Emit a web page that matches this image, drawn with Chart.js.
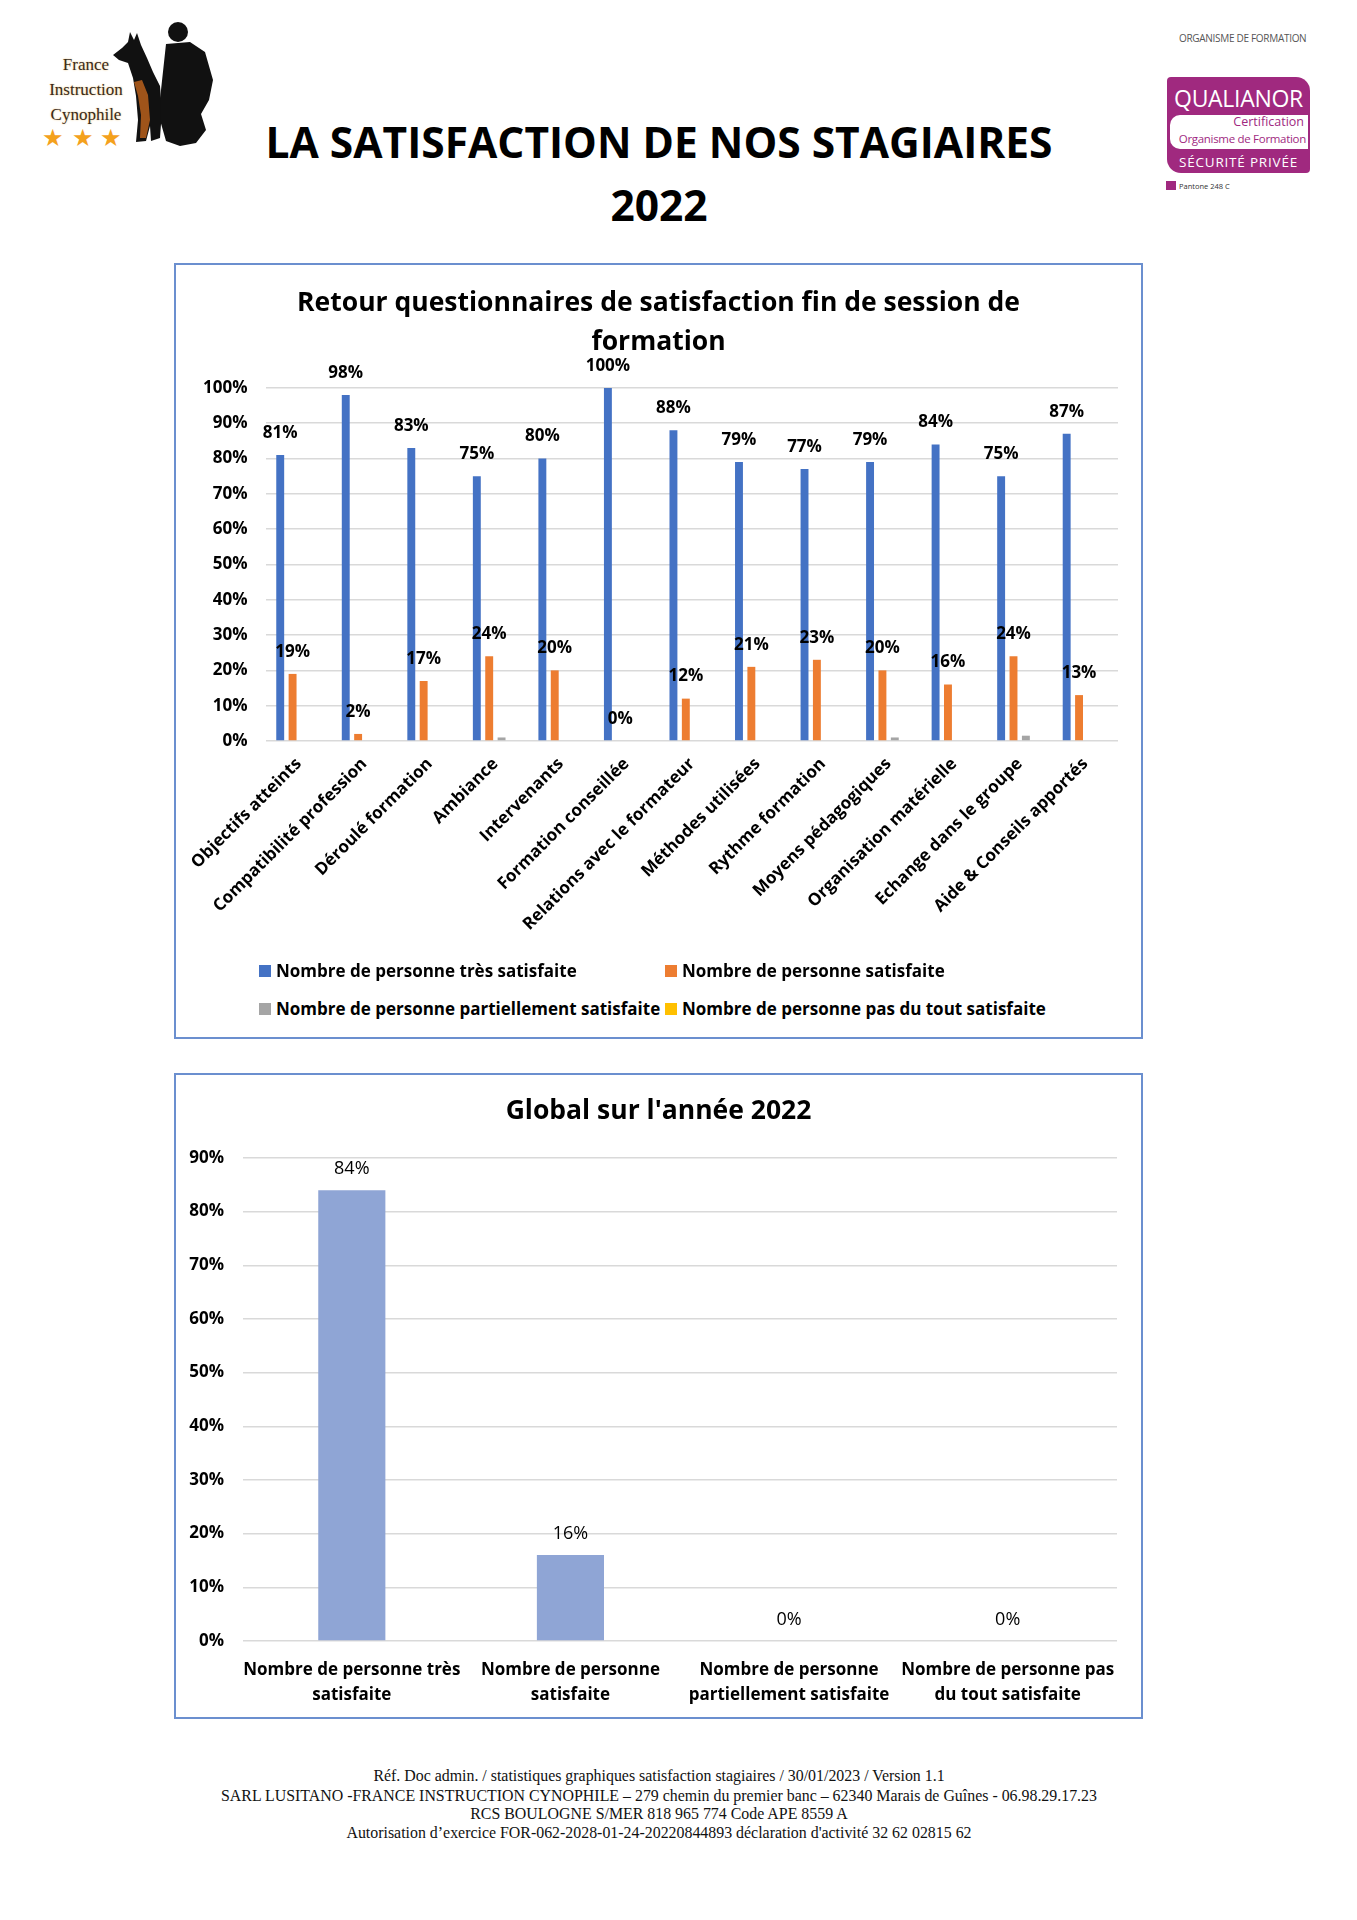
<!DOCTYPE html>
<html lang="fr">
<head>
<meta charset="utf-8">
<title>La satisfaction de nos stagiaires 2022</title>
<script src="https://cdn.jsdelivr.net/npm/chart.js@4.4.1/dist/chart.umd.min.js"></script>
<style>
  html, body { margin: 0; padding: 0; background: #fff; }
  #page { position: relative; width: 1357px; height: 1920px; font-family: "Open Sans", sans-serif; color: #000; }
  .abs { position: absolute; }
  .title { left: 0; width: 1318px; text-align: center; font-weight: 700; font-size: 42.5px; line-height: 1; }
  .box { position: absolute; left: 174px; width: 965px; border: 2px solid #6b8fcf; }
  canvas { position: absolute; left: 0; top: 0; }
  .leg { position: absolute; font-weight: 700; font-size: 17px; line-height: 20px; white-space: nowrap; }
  .leg i { position: absolute; left: -17px; top: 4px; width: 12px; height: 12px; }
  .foot { left: 0; width: 1318px; text-align: center; font-family: "Liberation Serif", "Times New Roman", serif; font-size: 15.9px; line-height: 1; color: #111; }
  .fic { font-family: "Liberation Serif", serif; font-size: 17px; color: #3a2a18; text-shadow: 0 0 2px #e7c27a; width: 120px; text-align: center; left: 26px; }
  .star { color: #f4a11d; font-size: 24px; line-height: 1; }
  .badge { left: 1167px; top: 77px; width: 143px; height: 96px; background: #a0297f; border-radius: 4px 14px 4px 14px; color: #fff; }
</style>
</head>
<body>
<div id="page">
  <!-- logo gauche -->
  <svg class="abs" style="left:0;top:0" width="250" height="170">
    <path d="M113,55 L122,48 L128,42 L130,32 L134,40 L137,33 L141,45 L147,58 L153,72 L160,86 L162,110 L160,138 L151,141 L150,126 L146,141 L136,142 L138,120 L136,96 L133,78 L128,63 L119,60 Z" fill="#111"/>
    <path d="M134,82 L142,80 L148,95 L150,120 L146,138 L140,138 L141,115 L138,96 Z" fill="#b8601c" opacity="0.85"/>
    <circle cx="178" cy="32" r="10" fill="#111"/>
    <path d="M166,44 L190,42 L205,52 L213,80 L209,100 L201,114 L206,130 L196,143 L180,146 L166,141 L160,120 L161,90 Z" fill="#111"/>
  </svg>
  <div class="abs fic" style="top:55px">France</div>
  <div class="abs fic" style="top:80px">Instruction</div>
  <div class="abs fic" style="top:105px">Cynophile</div>
  <div class="abs star" style="left:42px;top:125px">★</div>
  <div class="abs star" style="left:72px;top:125px">★</div>
  <div class="abs star" style="left:100px;top:125px">★</div>

  <!-- logo droite -->
  <div class="abs" style="left:1179px;top:31px;font-size:10px;color:#555;letter-spacing:-0.3px">ORGANISME DE FORMATION</div>
  <div class="abs badge">
    <div class="abs" style="left:0;width:143px;top:7px;text-align:center;font-size:23px;line-height:28px;letter-spacing:-0.3px;font-family:'DejaVu Sans ExtraLight','Open Sans',sans-serif">QUALIANOR</div>
    <div class="abs" style="left:3px;top:38px;width:138px;height:34px;background:#fff;border-radius:10px 0 0 10px;color:#a0297f">
      <div class="abs" style="right:4px;top:-2px;font-size:12.5px;line-height:18px">Certification</div>
      <div class="abs" style="right:2px;top:15px;font-size:11.5px;line-height:17px;letter-spacing:-0.3px">Organisme de Formation</div>
    </div>
    <div class="abs" style="left:0;width:143px;top:76px;text-align:center;font-size:13.5px;line-height:19px;letter-spacing:0.8px">SÉCURITÉ PRIVÉE</div>
  </div>
  <div class="abs" style="left:1166px;top:181px;width:10px;height:9px;background:#a0297f"></div>
  <div class="abs" style="left:1179px;top:181px;font-size:7.5px;color:#333">Pantone 248 C</div>

  <div class="abs title" style="top:120.5px">LA SATISFACTION DE NOS STAGIAIRES</div>
  <div class="abs title" style="top:183.5px">2022</div>

  <div class="box" style="top:263px;height:772px"><canvas id="c1" width="965" height="700"></canvas></div>
  <div id="legend1"></div>

  <div class="box" style="top:1073px;height:642px"><canvas id="c2" width="965" height="642"></canvas></div>

  <div class="abs foot" style="top:1768px">Réf. Doc admin. / statistiques graphiques satisfaction stagiaires / 30/01/2023 / Version 1.1</div>
  <div class="abs foot" style="top:1788px">SARL LUSITANO -FRANCE INSTRUCTION CYNOPHILE – 279 chemin du premier banc – 62340 Marais de Guînes - 06.98.29.17.23</div>
  <div class="abs foot" style="top:1806px">RCS BOULOGNE S/MER 818 965 774 Code APE 8559 A</div>
  <div class="abs foot" style="top:1825px">Autorisation d’exercice FOR-062-2028-01-24-20220844893 déclaration d'activité 32 62 02815 62</div>
</div>

<script>
// données
const categories = ['Objectifs atteints', 'Compatibilité profession', 'Déroulé formation', 'Ambiance',
  'Intervenants', 'Formation conseillée', 'Relations avec le formateur', 'Méthodes utilisées',
  'Rythme formation', 'Moyens pédagogiques', 'Organisation matérielle', 'Echange dans le groupe',
  'Aide & Conseils apportés'];
const seriesNames = ['Nombre de personne très satisfaite', 'Nombre de personne satisfaite',
  'Nombre de personne partiellement satisfaite', 'Nombre de personne pas du tout satisfaite'];
const tresSatisfait = [81, 98, 83, 75, 80, 100, 88, 79, 77, 79, 84, 75, 87];
const satisfait = [19, 2, 17, 24, 20, 0, 12, 21, 23, 20, 16, 24, 13];
const partiellement = [0, 0, 0, 1, 0, 0, 0, 0, 0, 1, 0, 1.5, 0];
const pasDuTout = [0, 0, 0, 0, 0, 0, 0, 0, 0, 0, 0, 0, 0];
const seriesColors = ['#4472c4', '#ed7d31', '#a5a5a5', '#ffc000'];

const globalLabels = [['Nombre de personne très', 'satisfaite'], ['Nombre de personne', 'satisfaite'],
  ['Nombre de personne', 'partiellement satisfaite'], ['Nombre de personne pas', 'du tout satisfaite']];
const globalValues = [84, 16, 0, 0];

const FONT = '"Open Sans", sans-serif';
const GRID = '#d9d9d9';

// étiquettes de valeur au-dessus des barres
const barLabels = {
  id: 'barLabels',
  afterDatasetsDraw(chart, args, opts) {
    const ctx = chart.ctx;
    ctx.save();
    ctx.font = opts.font;
    ctx.fillStyle = '#000';
    ctx.textAlign = 'center';
    ctx.textBaseline = 'middle';
    opts.datasets.forEach(di => {
      const meta = chart.getDatasetMeta(di);
      meta.data.forEach((bar, i) => {
        const v = chart.data.datasets[di].data[i];
        ctx.fillText(Math.round(v) + '%', bar.x, bar.y - opts.offset);
      });
    });
    ctx.restore();
  }
};

const pct = v => v + '%';

const chart1 = new Chart(document.getElementById('c1'), {
  type: 'bar',
  data: {
    labels: categories,
    datasets: [tresSatisfait, satisfait, partiellement, pasDuTout].map((d, i) => ({
      label: seriesNames[i], data: d, backgroundColor: seriesColors[i],
      categoryPercentage: 0.755, barPercentage: 0.64
    }))
  },
  options: {
    responsive: false, animation: false,
    layout: { padding: 0 },
    plugins: {
      legend: { display: false }, tooltip: { enabled: false },
      title: {
        display: true, text: ['Retour questionnaires de satisfaction fin de session de', 'formation'],
        color: '#000', font: { family: FONT, size: 26.5, weight: '700', lineHeight: 1.47 },
        padding: { top: 19, bottom: 26 }
      },
      barLabels: { datasets: [0, 1], font: '700 17px ' + FONT, offset: 22 }
    },
    scales: {
      x: {
        grid: { display: false }, border: { display: false },
        ticks: { autoSkip: false, minRotation: 45, maxRotation: 45, padding: 5, color: '#000',
          font: { family: FONT, size: 17, weight: '700' } },
        // marge droite de la zone de tracé, le titre reste centré sur tout le cadre
        afterFit: s => { s.height = 224; s.paddingRight = 23; }
      },
      y: {
        min: 0, max: 100,
        grid: { color: GRID, lineWidth: 1.5, drawTicks: false }, border: { display: false },
        ticks: { stepSize: 10, padding: 18.5, color: '#000', callback: pct,
          font: { family: FONT, size: 17, weight: '700' } },
        afterFit: s => { s.width = 90; }
      }
    }
  },
  plugins: [barLabels]
});

// légende HTML en deux colonnes, comme dans Excel
const legendPos = [[276, 961], [682, 961], [276, 999], [682, 999]];
document.getElementById('legend1').innerHTML = chart1.data.datasets.map((ds, i) =>
  `<div class="leg" style="left:${legendPos[i][0]}px;top:${legendPos[i][1]}px"><i style="background:${ds.backgroundColor}"></i>${ds.label}</div>`
).join('');

new Chart(document.getElementById('c2'), {
  type: 'bar',
  data: {
    labels: globalLabels,
    datasets: [{ data: globalValues, backgroundColor: '#8fa5d5', categoryPercentage: 1, barPercentage: 0.307 }]
  },
  options: {
    responsive: false, animation: false,
    layout: { padding: 0 },
    plugins: {
      legend: { display: false }, tooltip: { enabled: false },
      title: {
        display: true, text: "Global sur l'année 2022", color: '#000',
        font: { family: FONT, size: 26.5, weight: '700', lineHeight: 1.5 },
        padding: { top: 16.8, bottom: 26.4 }
      },
      barLabels: { datasets: [0], font: '400 18px ' + FONT, offset: 21 }
    },
    scales: {
      x: {
        grid: { display: false }, border: { display: false },
        ticks: { autoSkip: false, minRotation: 0, maxRotation: 0, padding: 8.5, color: '#000',
          font: { family: FONT, size: 17, weight: '700', lineHeight: 1.47 } },
        afterFit: s => { s.height = 76; s.paddingRight = 24; }
      },
      y: {
        min: 0, max: 90,
        grid: { color: GRID, lineWidth: 1.5, drawTicks: false }, border: { display: false },
        ticks: { stepSize: 10, padding: 18.5, color: '#000', callback: pct,
          font: { family: FONT, size: 17, weight: '700' } },
        afterFit: s => { s.width = 66.5; }
      }
    }
  },
  plugins: [barLabels]
});
</script>
</body>
</html>
